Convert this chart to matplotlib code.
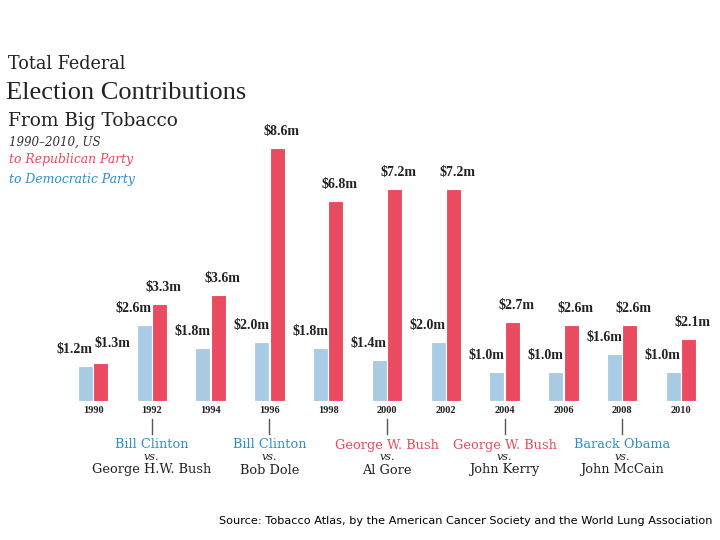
import numpy as np
import matplotlib
matplotlib.use("Agg")
import matplotlib.pyplot as plt

years = ["1990", "1992", "1994", "1996", "1998", "2000", "2002", "2004", "2006", "2008", "2010"]
dem = [1.2, 2.6, 1.8, 2.0, 1.8, 1.4, 2.0, 1.0, 1.0, 1.6, 1.0]
rep = [1.3, 3.3, 3.6, 8.6, 6.8, 7.2, 7.2, 2.7, 2.6, 2.6, 2.1]

# presidential races: (year index, winner, winner party, loser)
race_idx = [1, 3, 5, 7, 9]
race_winner = ["Bill Clinton", "Bill Clinton", "George W. Bush", "George W. Bush", "Barack Obama"]
race_party = ["D", "D", "R", "R", "D"]
race_loser = ["George H.W. Bush", "Bob Dole", "Al Gore", "John Kerry", "John McCain"]

BLUE = "#a9cbe3"
RED = "#ea4b60"
BLUE_TXT = "#2b8fcf"
RED_TXT = "#e84a5c"
DARK = "#222222"

cond = ["DejaVu Serif Condensed", "Liberation Serif", "DejaVu Serif"]
slab = ["DejaVu Serif"]

W, H = 720, 540
fig = plt.figure(figsize=(7.2, 5.4), dpi=100)
ax = fig.add_axes([0, 0, 1, 1])

# pixel mapping: group i centred at 93 + 58.8*i, baseline at y=401 px from top, 29.4 px per $m
px_per_x = 58.8
px_per_m = 29.4
ax.set_xlim(-93 / px_per_x, (W - 93) / px_per_x)
ax.set_ylim(-(H - 401) / px_per_m, 401 / px_per_m)
ax.axis("off")


def fx(px):
    return px / W


def fy(py):
    return 1 - py / H


x = np.arange(len(years))
bw = 0.255
off = 0.13
ax.bar(x - off, dem, bw, color=BLUE, edgecolor="white", linewidth=0.8)
ax.bar(x + off, rep, bw, color=RED, edgecolor="white", linewidth=0.8)

dy = 10 / px_per_m
for i in range(len(years)):
    ax.text(x[i] - off + bw / 2, dem[i] + dy, "$%.1fm" % dem[i], ha="right", va="bottom",
            fontsize=10, fontweight="bold", family=cond, color=DARK)
    if rep[i] - dem[i] < 0.5:
        ax.text(x[i] + 0.02, rep[i] + dy + 0.1, "$%.1fm" % rep[i], ha="left", va="bottom",
                fontsize=10, fontweight="bold", family=cond, color=DARK)
    else:
        ax.text(x[i] + off + 0.07, rep[i] + dy, "$%.1fm" % rep[i], ha="center", va="bottom",
                fontsize=10, fontweight="bold", family=cond, color=DARK)
    ax.text(x[i], -9.5 / px_per_m, years[i], ha="center", va="center",
            fontsize=7.5, fontweight="bold", family=cond, color=DARK)

for k, i in enumerate(race_idx):
    ax.plot([x[i], x[i]], [-18 / px_per_m, -33 / px_per_m], color="#555555", lw=1)
    col = BLUE_TXT if race_party[k] == "D" else RED_TXT
    ax.text(x[i], -44 / px_per_m, race_winner[k], ha="center", va="center",
            fontsize=9.3, family=slab, color=col)
    ax.text(x[i], -56 / px_per_m, "vs.", ha="center", va="center",
            fontsize=8, family=slab, style="italic", color=DARK)
    ax.text(x[i], -69 / px_per_m, race_loser[k], ha="center", va="center",
            fontsize=9.3, family=slab, color=DARK)

# title block
fig.text(fx(8), fy(64), "Total Federal", ha="left", va="center", fontsize=12.7, family=slab, color=DARK)
fig.text(fx(6), fy(93), "Election Contributions", ha="left", va="center", fontsize=19,
         family=cond, color=DARK)
fig.text(fx(8), fy(121), "From Big Tobacco", ha="left", va="center", fontsize=13.3, family=slab, color=DARK)
fig.text(fx(9), fy(142), "1990\u20132010, US", ha="left", va="center", fontsize=8.6,
         family=slab, style="italic", color="#333333")
fig.text(fx(9), fy(160), "to Republican Party", ha="left", va="center", fontsize=8.9,
         family=slab, style="italic", color=RED_TXT)
fig.text(fx(9), fy(179), "to Democratic Party", ha="left", va="center", fontsize=8.9,
         family=slab, style="italic", color=BLUE_TXT)

fig.text(fx(712), fy(521), "Source: Tobacco Atlas, by the American Cancer Society and the World Lung Association",
         ha="right", va="center", fontsize=8.1, family="DejaVu Sans", color="black")

fig.savefig("out.png", dpi=100)
